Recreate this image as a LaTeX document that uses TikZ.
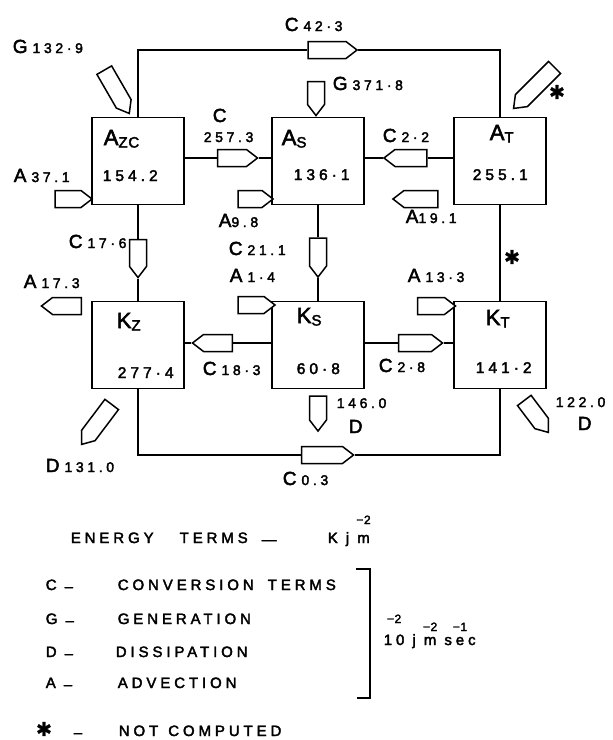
\documentclass[tikz,border=0pt]{standalone}
\usepackage{fontspec}
\setmainfont[LetterSpace=26,FakeBold=2.5]{Liberation Sans}
\newfontfamily\symfont[FakeBold=1]{DejaVu Sans}
\usetikzlibrary{shapes.symbols}
\newcommand{\lett}[1]{{\fontsize{19}{19}\selectfont #1}}
\newcommand{\numb}[1]{{\fontsize{14}{14}\selectfont #1}}
\newcommand{\flux}[2]{\lett{#1}\hspace{5pt}\numb{#2}}
\newcommand{\boxname}[2]{{\fontsize{22}{22}\selectfont #1}\raisebox{-2.5pt}{\addfontfeature{LetterSpace=5}\fontsize{15}{15}\selectfont #2}}
\newcommand{\boxval}[1]{{\fontsize{15.5}{15.5}\selectfont #1}}
\newcommand{\nocomp}{{\symfont\fontsize{19}{19}\selectfont ✱}}
\newcommand{\legtext}[1]{{\fontsize{15}{15}\selectfont #1}}
\newcommand{\lowdash}{\raisebox{-1.5pt}{–}}
\newcommand{\overidx}[3]{\leavevmode\sbox0{#1}\rlap{\hbox to\wd0{\hss\raisebox{#3}{\addfontfeature{LetterSpace=5}\fontsize{12}{12}\selectfont #2}\hss}}\usebox0}
\begin{document}
\begin{tikzpicture}[x=1pt,y=-1pt,line width=1.6pt,
  energy/.style={draw,line width=1.8pt,minimum width=92pt,minimum height=87pt,inner sep=0pt},
  flow/.style={draw,fill=white,line width=1.5pt,shape=signal,signal to=east,signal pointer angle=75,inner sep=0pt,minimum height=17pt},
  txt/.style={anchor=base west,inner sep=0pt}]
\useasboundingbox (0,0) rectangle (613,740);
\node[energy] (azc) at (138,161) {};
\node[energy] (as) at (318,161) {};
\node[energy] (at) at (500,161) {};
\node[energy] (kz) at (138,345) {};
\node[energy] (ks) at (318,345) {};
\node[energy] (kt) at (500,345) {};
\node[txt] (lazc) at (103,145) {\boxname{A}{ZC}};
\node[txt] (vazc) at (102,181) {\boxval{154.2}};
\node[txt] (las) at (281,145) {\boxname{A}{S}};
\node[txt] (vas) at (293,180) {\boxval{136·1}};
\node[txt] (lat) at (489,140) {\boxname{A}{T}};
\node[txt] (vat) at (472,180) {\boxval{255.1}};
\node[txt] (lkz) at (116,328) {\boxname{K}{Z}};
\node[txt] (vkz) at (117,378) {\boxval{277·4}};
\node[txt] (lks) at (296,323) {\boxname{K}{S}};
\node[txt] (vks) at (296,374) {\boxval{60·8}};
\node[txt] (lkt) at (485,325) {\boxname{K}{T}};
\node[txt] (vkt) at (475,373) {\boxval{141·2}};
\node[flow,minimum width=49pt] (c423) at (327,50) {};
\node[flow,minimum width=40pt] (c2573) at (232,158) {};
\node[flow,minimum width=43pt,rotate=180] (c22) at (411,158) {};
\node[flow,minimum width=38pt,rotate=-90] (c176) at (138,253) {};
\node[flow,minimum width=39pt,rotate=-90] (c211) at (318,252) {};
\node[flow,minimum width=40pt,rotate=180] (c183) at (218,343) {};
\node[flow,minimum width=44pt] (c28) at (415,343) {};
\node[flow,minimum width=52pt] (c03) at (322,455) {};
\node[flow,minimum width=50pt,rotate=-60] (g1329) at (114,87) {};
\node[flow,minimum width=34pt,rotate=-90] (g3718) at (316,93) {};
\node[flow,minimum width=58pt,rotate=-135] (gat) at (538,84) {};
\node[flow,minimum width=50pt,rotate=-127] (d1310) at (100,420) {};
\node[flow,minimum width=35pt,rotate=-90] (d1460) at (318,408) {};
\node[flow,minimum width=40pt,rotate=-53] (d1220) at (533,412) {};
\node[flow,minimum width=37pt] (a371) at (68,199) {};
\node[flow,minimum width=35pt] (a98) at (250,199) {};
\node[flow,minimum width=45pt,rotate=180] (a191) at (421,199) {};
\node[flow,minimum width=40pt,rotate=180] (a173) at (67,306) {};
\node[flow,minimum width=37pt] (a14) at (251,305) {};
\node[flow,minimum width=38pt] (a133) at (431,306) {};
\draw (azc.north) |- (c423);
\draw (c423) -| (at.north);
\draw (azc.east |- c2573) -- (c2573);
\draw (c2573) -- (as.west |- c2573);
\draw (as.east |- c22) -- (c22);
\draw (c22) -- (at.west |- c22);
\draw (azc.south) -- (c176);
\draw (c176) -- (kz.north);
\draw (as.south) -- (c211);
\draw (c211) -- (ks.north);
\draw (at) -- (kt);
\draw (kz.east |- c183) -- (c183);
\draw (c183) -- (ks.west |- c183);
\draw (ks.east |- c28) -- (c28);
\draw (c28) -- (kt.west |- c28);
\draw (kz.south) |- (c03);
\draw (c03) -| (kt.south);
\node[txt] (tc423) at (284,31) {\flux{C}{42·3}};
\node[txt] (tg1329) at (12,53) {\flux{G}{132·9}};
\node[txt] (tg3718) at (332,90) {\flux{G}{371·8}};
\node[txt] (tc2573a) at (212,122) {\lett{C}};
\node[txt] (tc2573b) at (203,142) {\numb{257.3}};
\node[txt] (tc22) at (382,142) {\flux{C}{2·2}};
\node[txt] (ta371) at (13,182) {\flux{A}{37.1}};
\node[txt] (ta98) at (218,227) {\lett{A}\numb{9.8}};
\node[txt] (ta191) at (405,223) {\lett{A}\numb{19.1}};
\node[txt] (tc176) at (68,248) {\flux{C}{17·6}};
\node[txt] (tc211) at (228,255) {\flux{C}{21.1}};
\node[txt] (ta173) at (23,288) {\flux{A}{17.3}};
\node[txt] (ta14) at (229,282) {\flux{A}{1·4}};
\node[txt] (ta133) at (407,282) {\flux{A}{13·3}};
\node[txt] (tc183) at (202,375) {\flux{C}{18·3}};
\node[txt] (tc28) at (378,372) {\flux{C}{2·8}};
\node[txt] (td1460) at (336,408) {\numb{146.0}};
\node[txt] (td1460b) at (348,433) {\lett{D}};
\node[txt] (td1220) at (555,407) {\numb{122.0}};
\node[txt] (td1220b) at (577,430) {\lett{D}};
\node[txt] (td1310) at (45,472) {\flux{D}{131.0}};
\node[txt] (tc03) at (282,485) {\flux{C}{0.3}};
\node (sat) at (557,92) {\nocomp};
\node (skt) at (512,257) {\nocomp};
\node[txt] (energy) at (70,543) {\legtext{ENERGY\hspace{26pt}TERMS\hspace{14pt}\raisebox{-1.5pt}{—}}};
\node[txt] (unit1) at (327,543) {\legtext{K j \overidx{m}{−2}{19pt}}};
\node[txt] (kc) at (45,590) {\legtext{C \lowdash}};
\node[txt] (lc) at (117,590) {\legtext{CONVERSION\hspace{14pt}TERMS}};
\node[txt] (kg) at (45,624) {\legtext{G \lowdash}};
\node[txt] (lg) at (117,624) {\legtext{GENERATION}};
\node[txt] (kd) at (45,657) {\legtext{D \lowdash}};
\node[txt] (ld) at (115,657) {\legtext{DISSIPATION}};
\node[txt] (ka) at (45,688) {\legtext{A \lowdash}};
\node[txt] (la) at (117,688) {\legtext{ADVECTION}};
\draw (356,569) -- (370,569) -- (370,698) -- (357,698);
\node[txt] (unit2) at (383,645) {\legtext{\overidx{10}{−2}{22pt} j \overidx{m}{−2}{14pt} \overidx{sec}{−1}{14pt}}};
\node (snc) at (44,729) {\nocomp};
\node[txt] (dnc) at (73,736) {\legtext{\lowdash}};
\node[txt] (lnc) at (118,736) {\legtext{NOT\hspace{10pt}COMPUTED}};
\end{tikzpicture}
\end{document}
